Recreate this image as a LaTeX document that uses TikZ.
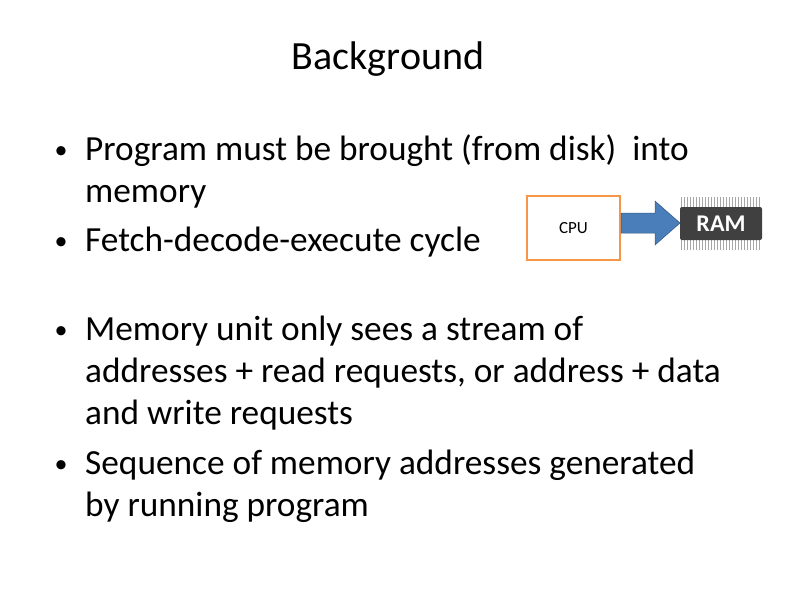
\documentclass[tikz,border=0pt]{standalone}
\usepackage{fontspec}
\setmainfont{Carlito}
\definecolor{arrowblue}{HTML}{4A7EBB}
\definecolor{boxorange}{HTML}{F79646}
\begin{document}
\begin{tikzpicture}[x=1pt,y=-1pt,
  line/.style={anchor=base west,inner sep=0pt,font=\fontsize{35.3}{40}\selectfont},
  bul/.style={anchor=base,inner sep=0pt,font=\fontsize{26}{30}\selectfont}]
\useasboundingbox[fill=white] (0,0) rectangle (800,600);
\node[anchor=base,inner sep=0pt,font=\fontsize{40}{46}\selectfont] (title) at (388,69) {Background};
\node[bul] (b1) at (61,158) {•};
\node[line] (l1) at (85,160) {Program must be brought (from disk)\ \ into};
\node[line] (l2) at (85,202) {memory};
\node[bul] (b2) at (61,249) {•};
\node[line] (l3) at (85,251) {Fetch-decode-execute cycle};
\node[bul] (b3) at (61,338) {•};
\node[line] (l4) at (85,340) {Memory unit only sees a stream of};
\node[line] (l5) at (85,382) {addresses + read requests, or address + data};
\node[line] (l6) at (85,424) {and write requests};
\node[bul] (b4) at (61,472) {•};
\node[line] (l7) at (85,474) {Sequence of memory addresses generated};
\node[line] (l8) at (85,516) {by running program};
% CPU
\node[draw=boxorange,line width=1.5pt,minimum width=93pt,minimum height=64pt,inner sep=0pt,font=\fontsize{17}{20}\selectfont] (cpu) at (573.5,228) {CPU};
% arrow
\fill[arrowblue,draw=arrowblue!70!black,line width=0.5pt] (621,213) -- (655,213) -- (655,201) -- (680,223) -- (655,245) -- (655,233) -- (621,233) -- cycle;
% RAM
\foreach \i in {0,...,26} {
  \draw[gray!70,line width=1pt] (681.5+\i*3,197) -- (681.5+\i*3,250);
}
\node[fill=black!75,rounded corners=2pt,minimum width=82pt,minimum height=33pt,inner sep=0pt,text=white,font=\fontsize{24}{28}\selectfont\bfseries] (ram) at (721,223.5) {RAM};
\end{tikzpicture}
\end{document}
